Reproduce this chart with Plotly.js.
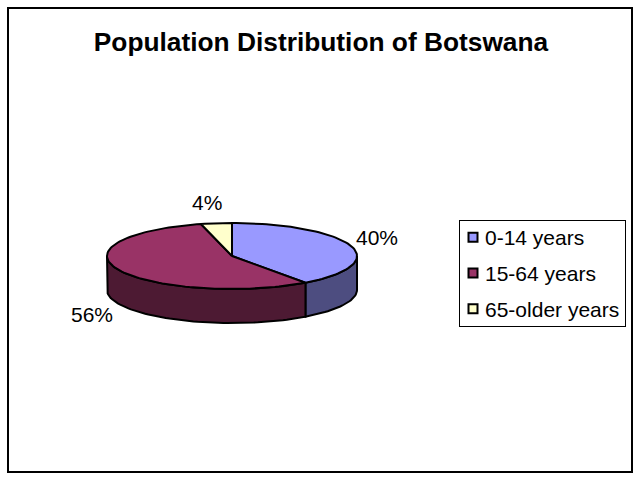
<!DOCTYPE html>
<html>
<head>
<meta charset="utf-8">
<script src="https://cdn.plot.ly/plotly-3.0.1.min.js"></script>
<style>html,body{margin:0;padding:0;background:#fff;overflow:hidden}</style>
</head>
<body>
<div id="chart" style="width:641px;height:481px"></div>
<script>
const categories = ['0-14 years', '15-64 years', '65-older years'];
const shares = [40, 56, 4];
const topColors = ['#9999FF', '#993366', '#FFFFCC'];
const sideColors = ['#4D4D80', '#4D1A33', '#808066'];

const FONT = '"Liberation Sans", Arial, sans-serif';

// Excel-style tilted pie: the axes run in pixels, so the ellipse maths stays simple
const cx = 232, cy = 256, rx = 125, ry = 33, depth = 34;
const rad = (deg) => deg * Math.PI / 180;
const px = (a) => cx + rx * Math.sin(rad(a));
const py = (a) => cy - ry * Math.cos(rad(a));

function arc(a0, a1) {
  const n = Math.max(2, Math.ceil(Math.abs(a1 - a0) / 2));
  return Array.from({ length: n + 1 }, (_, i) => a0 + (a1 - a0) * i / n);
}

const polyTrace = (x, y, fillcolor) => ({
  type: 'scatter', mode: 'lines', x, y, fill: 'toself', fillcolor,
  line: { color: '#000', width: 2 }, showlegend: false, hoverinfo: 'skip',
});

const total = shares.reduce((a, b) => a + b, 0);
let start = 0;
const slices = shares.map((v) => {
  const s = { a0: start, a1: start + v / total * 360 };
  start = s.a1;
  return s;
});

// side walls only for the part of each slice facing the viewer (90..270 deg)
const walls = [];
slices.forEach((s, i) => {
  const a0 = Math.max(s.a0, 90), a1 = Math.min(s.a1, 270);
  if (a1 <= a0) return;
  const top = arc(a0, a1), bottom = top.slice().reverse();
  walls.push(polyTrace(
    top.map(px).concat(bottom.map(px), [px(a0)]),
    top.map(py).concat(bottom.map((a) => py(a) + depth), [py(a0)]),
    sideColors[i]));
});

const tops = slices.map((s, i) => {
  const a = arc(s.a0, s.a1);
  return polyTrace([cx].concat(a.map(px), [cx]), [cy].concat(a.map(py), [cy]), topColors[i]);
});

const legendTraces = categories.map((name, i) => ({
  type: 'scatter', mode: 'markers', x: [null], y: [null], name,
  legendgroup: name, hoverinfo: 'skip',
  marker: { symbol: 'square', size: 9, color: topColors[i], line: { color: '#000', width: 2 } },
}));

const labelSpots = [[376.5, 237], [92, 314], [206.5, 202]];
const annotations = shares.map((v, i) => ({
  x: labelSpots[i][0], y: labelSpots[i][1], xref: 'x', yref: 'y',
  text: v + '%', showarrow: false, font: { family: FONT, size: 21, color: '#000' },
}));

const layout = {
  width: 641, height: 481,
  margin: { l: 0, r: 0, t: 0, b: 0 },
  paper_bgcolor: '#fff', plot_bgcolor: '#fff',
  title: {
    text: '<b>Population Distribution of Botswana</b>',
    x: 321 / 641, xanchor: 'center', y: 1 - 42 / 481, yanchor: 'middle',
    font: { family: FONT, size: 26.3, color: '#000' },
  },
  xaxis: { visible: false, range: [0, 641], fixedrange: true },
  yaxis: { visible: false, range: [481, 0], fixedrange: true },
  showlegend: true,
  legend: {
    x: 459 / 641, xanchor: 'left', y: 1 - 220 / 481, yanchor: 'top',
    bgcolor: '#fff', bordercolor: '#000', borderwidth: 1,
    font: { family: FONT, size: 21, color: '#000' },
    entrywidth: 120, entrywidthmode: 'pixels',
    tracegroupgap: 5.5, itemclick: false, itemdoubleclick: false,
  },
  shapes: [{
    type: 'rect', xref: 'paper', yref: 'paper', x0: 8 / 641, x1: 632 / 641, y0: 1 - 472 / 481, y1: 1 - 8 / 481,
    line: { color: '#000', width: 2 }, fillcolor: 'rgba(0,0,0,0)', layer: 'below',
  }],
  annotations,
  hovermode: false,
};

Plotly.newPlot('chart', walls.concat(tops, legendTraces), layout, { displayModeBar: false }).then((gd) => {
  // plotly keeps 30px for each legend swatch; the original uses a much tighter key
  const legend = gd.querySelector('.legend');
  legend.querySelectorAll('.legendtext').forEach((t) => t.setAttribute('x', 25));
  legend.querySelectorAll('.legendsymbols > .legendpoints').forEach((p) => p.setAttribute('transform', 'translate(-7,0)'));
  const box = legend.querySelector('.scrollbox');
  box.removeAttribute('clip-path');
  box.setAttribute('transform', 'translate(0,-4)');
  const bg = legend.querySelector('.bg');
  bg.setAttribute('width', 166);
  bg.setAttribute('height', 106);
});
</script>
</body>
</html>
